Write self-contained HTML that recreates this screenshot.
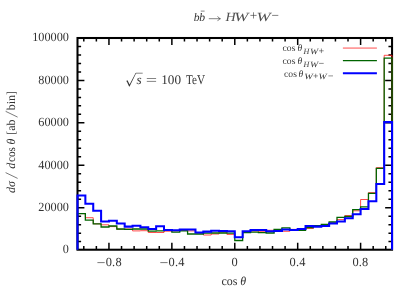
<!DOCTYPE html>
<html><head><meta charset="utf-8"><style>
html,body{margin:0;padding:0;background:#fff;}
svg{display:block;font-family:"Liberation Serif",serif;text-rendering:geometricPrecision;}
</style></head><body>
<svg width="415" height="291" viewBox="0 0 415 291">
<rect width="415" height="291" fill="#fff"/>
<g fill="#333" font-size="12" style="mix-blend-mode:multiply">
<text x="62.8" y="253.4" font-size="12.6" textLength="6.1" lengthAdjust="spacingAndGlyphs">0</text><text x="38.3" y="211.0" font-size="12.6" textLength="30.6" lengthAdjust="spacingAndGlyphs">20000</text><text x="38.3" y="168.6" font-size="12.6" textLength="30.6" lengthAdjust="spacingAndGlyphs">40000</text><text x="38.3" y="126.2" font-size="12.6" textLength="30.6" lengthAdjust="spacingAndGlyphs">60000</text><text x="38.3" y="83.8" font-size="12.6" textLength="30.6" lengthAdjust="spacingAndGlyphs">80000</text><text x="32.2" y="41.4" font-size="12.6" textLength="36.8" lengthAdjust="spacingAndGlyphs">100000</text>
<path d="M97.4,262.6h7.3" stroke="#333" stroke-width="0.65" fill="none"/><text x="105.7" y="266.4" font-size="12.4" textLength="15.9" lengthAdjust="spacing">0.8</text><path d="M160.3,262.6h7.3" stroke="#333" stroke-width="0.65" fill="none"/><text x="168.6" y="266.4" font-size="12.4" textLength="15.9" lengthAdjust="spacing">0.4</text><text x="234.6" y="266.4" font-size="12.4" text-anchor="middle">0</text><text x="289.5" y="266.4" font-size="12.4" textLength="15.9" lengthAdjust="spacing">0.4</text><text x="352.4" y="266.4" font-size="12.4" textLength="15.9" lengthAdjust="spacing">0.8</text>
<text x="221.5" y="284.8">cos<tspan font-style="italic" x="240.3">θ</tspan></text>
<text transform="translate(14.6,193) rotate(-90)"><tspan font-style="italic" x="0">dσ</tspan><tspan font-style="italic" x="24.3">d</tspan><tspan x="31" textLength="14.8" lengthAdjust="spacingAndGlyphs">cos</tspan><tspan font-style="italic" x="48.4">θ</tspan><tspan x="58.2">[ab</tspan><tspan x="82.7">bin]</tspan></text>
<path transform="translate(14.6,193) rotate(-90)" d="M14.6,3L20.4,-9M75.9,3L81.7,-9" fill="none" stroke="#333" stroke-width="0.65"/>
<g font-size="12.5" font-style="italic">
<text x="193.8" y="21.3" font-size="11.6">b</text><text x="199.2" y="21.3" font-size="11.6">b</text>
<g fill="#505050"><text x="225.4" y="21.3" textLength="10.2" lengthAdjust="spacingAndGlyphs">H</text><text x="234.3" y="21.3" textLength="14.2" lengthAdjust="spacingAndGlyphs">W</text><text x="256.4" y="21.3" textLength="14.2" lengthAdjust="spacingAndGlyphs">W</text></g>
</g>
<g fill="none" stroke="#333" stroke-width="0.6">
<path d="M200.8,11.1H204.6"/>
<path d="M208.8,18.7H220.3M217.6,16.3Q218.4,18.1 220.4,18.7Q218.4,19.3 217.6,21.1"/>
<path d="M250.4,15.4H256.6M253.5,12.3V18.5"/>
<path d="M272.1,15.4H278.3"/>
<path d="M146.8,78.5H156.1M146.8,81.4H156.1"/>
<path d="M135.9,73.2H142.7"/>
</g>
<path d="M126.2,81.1l1.3,-0.9l2.1,4.4l6,-11.7h0.6l-6.6,13.6h-0.5l-2.4,-5.2l-0.4,0.3z" fill="#333" stroke="none"/>
<g font-size="13.2">
<text x="136.6" y="84" font-style="italic">s</text>
<text x="161.2" y="84.2">100</text>
<text x="186.1" y="84.2" textLength="19" lengthAdjust="spacingAndGlyphs">TeV</text>
</g>
<g font-size="9.6">
<text x="282.6" y="51.2">cos</text><text x="297.4" y="51.2" font-style="italic">θ</text>
<text x="282.6" y="63.85">cos</text><text x="297.4" y="63.85" font-style="italic">θ</text>
<text x="284.1" y="76.5">cos</text><text x="298.6" y="76.5" font-style="italic">θ</text>
<g font-size="8" font-style="italic">
<text x="303.4" y="53.9">H</text><text x="310.1" y="53.9" textLength="8.2" lengthAdjust="spacingAndGlyphs">W</text>
<text x="303.4" y="66.55">H</text><text x="310.1" y="66.55" textLength="8.2" lengthAdjust="spacingAndGlyphs">W</text>
<text x="304.3" y="79.1" textLength="8.6" lengthAdjust="spacingAndGlyphs">W</text><text x="318.6" y="79.1" textLength="8.2" lengthAdjust="spacingAndGlyphs">W</text>
</g>
<g fill="none" stroke="#333" stroke-width="0.55">
<path d="M319.1,50.8H323.7M321.4,48.5V53.1"/>
<path d="M319.1,63.4H323.7"/>
<path d="M313.5,75.9H317.9M315.7,73.7V78.1"/>
<path d="M328.4,75.9H333"/>
</g>
</g>
</g>
<rect x="77.5" y="38.0" width="314.55" height="211.72" fill="none" stroke="#000" stroke-width="2.05"/>
<g stroke="#000" stroke-width="1.5" fill="none"><path d="M83.79,249.72v-3.6M83.79,38.0v3.6"/><path d="M96.37,249.72v-3.6M96.37,38.0v3.6"/><path d="M108.95,249.72v-6.9M108.95,38.0v6.9"/><path d="M121.54,249.72v-3.6M121.54,38.0v3.6"/><path d="M134.12,249.72v-3.6M134.12,38.0v3.6"/><path d="M146.70,249.72v-3.6M146.70,38.0v3.6"/><path d="M159.28,249.72v-3.6M159.28,38.0v3.6"/><path d="M171.87,249.72v-6.9M171.87,38.0v6.9"/><path d="M184.45,249.72v-3.6M184.45,38.0v3.6"/><path d="M197.03,249.72v-3.6M197.03,38.0v3.6"/><path d="M209.61,249.72v-3.6M209.61,38.0v3.6"/><path d="M222.19,249.72v-3.6M222.19,38.0v3.6"/><path d="M234.78,249.72v-6.9M234.78,38.0v6.9"/><path d="M247.36,249.72v-3.6M247.36,38.0v3.6"/><path d="M259.94,249.72v-3.6M259.94,38.0v3.6"/><path d="M272.52,249.72v-3.6M272.52,38.0v3.6"/><path d="M285.10,249.72v-3.6M285.10,38.0v3.6"/><path d="M297.69,249.72v-6.9M297.69,38.0v6.9"/><path d="M310.27,249.72v-3.6M310.27,38.0v3.6"/><path d="M322.85,249.72v-3.6M322.85,38.0v3.6"/><path d="M335.43,249.72v-3.6M335.43,38.0v3.6"/><path d="M348.01,249.72v-3.6M348.01,38.0v3.6"/><path d="M360.60,249.72v-6.9M360.60,38.0v6.9"/><path d="M373.18,249.72v-3.6M373.18,38.0v3.6"/><path d="M385.76,249.72v-3.6M385.76,38.0v3.6"/><path d="M77.5,241.62h3.6M392.05,241.62h-3.6"/><path d="M77.5,233.13h3.6M392.05,233.13h-3.6"/><path d="M77.5,224.65h3.6M392.05,224.65h-3.6"/><path d="M77.5,216.16h3.6M392.05,216.16h-3.6"/><path d="M77.5,207.68h6.9M392.05,207.68h-6.9"/><path d="M77.5,199.20h3.6M392.05,199.20h-3.6"/><path d="M77.5,190.71h3.6M392.05,190.71h-3.6"/><path d="M77.5,182.23h3.6M392.05,182.23h-3.6"/><path d="M77.5,173.74h3.6M392.05,173.74h-3.6"/><path d="M77.5,165.26h6.9M392.05,165.26h-6.9"/><path d="M77.5,156.78h3.6M392.05,156.78h-3.6"/><path d="M77.5,148.29h3.6M392.05,148.29h-3.6"/><path d="M77.5,139.81h3.6M392.05,139.81h-3.6"/><path d="M77.5,131.32h3.6M392.05,131.32h-3.6"/><path d="M77.5,122.84h6.9M392.05,122.84h-6.9"/><path d="M77.5,114.36h3.6M392.05,114.36h-3.6"/><path d="M77.5,105.87h3.6M392.05,105.87h-3.6"/><path d="M77.5,97.39h3.6M392.05,97.39h-3.6"/><path d="M77.5,88.90h3.6M392.05,88.90h-3.6"/><path d="M77.5,80.42h6.9M392.05,80.42h-6.9"/><path d="M77.5,71.94h3.6M392.05,71.94h-3.6"/><path d="M77.5,63.45h3.6M392.05,63.45h-3.6"/><path d="M77.5,54.97h3.6M392.05,54.97h-3.6"/><path d="M77.5,46.48h3.6M392.05,46.48h-3.6"/></g>
<g fill="none" stroke-linejoin="miter">
<path d="M342.9,48.07H376.9" stroke="#ff2020" stroke-width="0.8"/>
<path d="M342.9,60.65H376.9" stroke="#006400" stroke-width="1.3"/>
<path d="M342.9,73.2H376.9" stroke="#0000ff" stroke-width="2.05"/>
<path d="M77.50,249.72V213.60H85.36V217.70H93.23V223.80H101.09V224.80H108.95V226.60H116.82V229.40H124.68V229.00H132.55V230.90H140.41V230.70H148.27V232.50H156.14V232.50H164.00V231.20H171.87V230.90H179.73V230.50H187.59V230.90H195.46V233.00H203.32V235.00H211.18V234.00H219.05V232.00H226.91V234.40H234.78V237.40H242.64V232.20H250.50V231.00H258.37V231.30H266.23V230.30H274.09V230.50H281.96V231.30H289.82V229.40H297.69V229.50H305.55V228.50H313.41V226.20H321.28V225.00H329.14V222.90H337.00V219.60H344.87V215.50H352.73V210.80H360.60V199.50H368.46V192.60H376.32V167.60H384.19V55.30H392.05V249.72" stroke="#ff2020" stroke-width="0.8"/>
<path d="M77.50,249.72V213.60H85.36V220.10H93.23V223.80H101.09V227.00H108.95V226.00H116.82V229.00H124.68V229.40H132.55V229.00H140.41V229.00H148.27V231.20H156.14V230.90H164.00V230.00H171.87V232.20H179.73V230.90H187.59V234.00H195.46V234.00H203.32V233.10H211.18V233.00H219.05V233.00H226.91V233.10H234.78V240.50H242.64V232.70H250.50V232.20H258.37V232.70H266.23V233.00H274.09V229.40H281.96V227.90H289.82V230.00H297.69V230.30H305.55V227.50H313.41V225.70H321.28V224.40H329.14V222.00H337.00V217.30H344.87V216.50H352.73V209.60H360.60V206.80H368.46V193.40H376.32V168.40H384.19V58.20H392.05V249.72" stroke="#006400" stroke-width="1.3"/>
<path d="M77.50,249.72V195.50H85.36V203.80H93.23V210.80H101.09V221.40H108.95V220.70H116.82V223.50H124.68V226.60H132.55V225.70H140.41V227.20H148.27V229.00H156.14V226.30H164.00V230.00H171.87V230.30H179.73V229.40H187.59V229.40H195.46V232.50H203.32V231.60H211.18V230.70H219.05V230.90H226.91V231.30H234.78V237.20H242.64V231.30H250.50V230.00H258.37V230.00H266.23V231.30H274.09V230.90H281.96V229.40H289.82V230.00H297.69V229.00H305.55V226.00H313.41V226.60H321.28V226.00H329.14V223.50H337.00V221.40H344.87V218.30H352.73V214.30H360.60V209.00H368.46V201.30H376.32V184.00H384.19V122.10H392.05V249.72" stroke="#0000ff" stroke-width="2.05"/>
</g>
</svg>
</body></html>
